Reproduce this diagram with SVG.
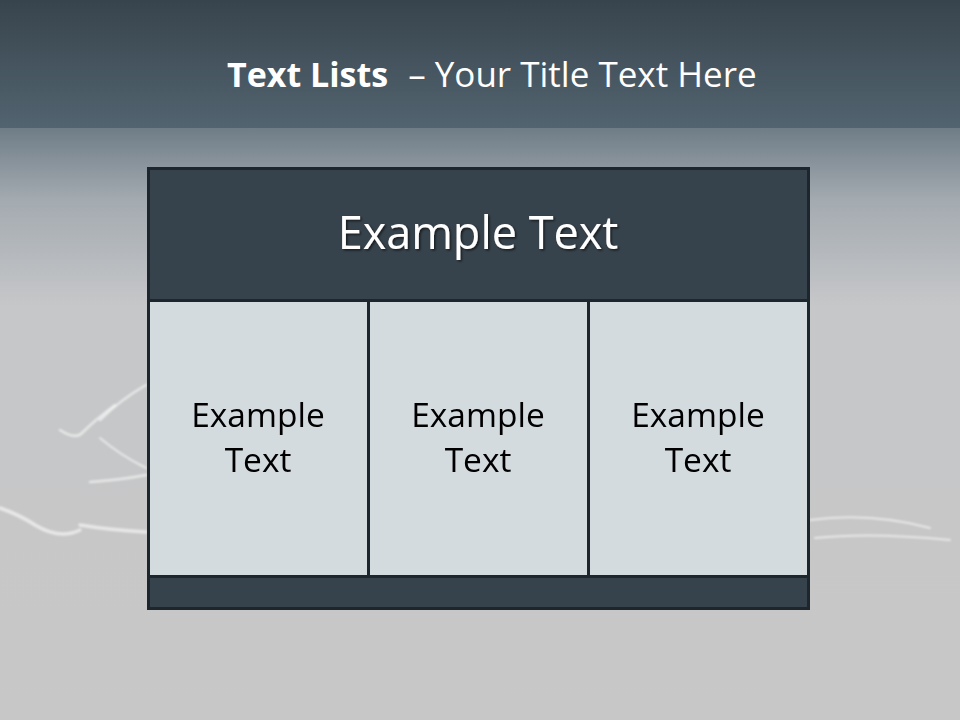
<svg xmlns="http://www.w3.org/2000/svg" width="960" height="720" viewBox="0 0 960 720">
<defs>
<linearGradient id="bgTop" x1="0" y1="0" x2="0" y2="1">
<stop offset="0" stop-color="#38444d"/>
<stop offset="1" stop-color="#526470"/>
</linearGradient>
<linearGradient id="bgBot" x1="0" y1="0" x2="0" y2="1">
<stop offset="0" stop-color="#6f7d87"/>
<stop offset="0.12" stop-color="#a3aab0"/>
<stop offset="0.3" stop-color="#c6c7c9"/>
<stop offset="1" stop-color="#c8c7c8"/>
</linearGradient>
<filter id="sh" x="-10%" y="-10%" width="120%" height="130%">
<feDropShadow dx="1.5" dy="1.5" stdDeviation="0.8" flood-color="#000" flood-opacity="0.6"/>
</filter>
<filter id="soft" x="-20%" y="-20%" width="140%" height="140%">
<feGaussianBlur stdDeviation="1.2"/>
</filter>
<style>
.title{font-family:"Open Sans","Noto Sans",sans-serif;fill:#fff;font-size:34px}
.hdr{font-family:"Open Sans","Noto Sans",sans-serif;fill:#fff;font-size:45px;text-anchor:middle}
.cell{font-family:"Open Sans","Noto Sans",sans-serif;fill:#000;font-size:33.5px;text-anchor:middle}
.dark{fill:#37434c;stroke:#1d262c;stroke-width:3}
.light{fill:#d3dbde;stroke:#1d262c;stroke-width:3}
.wisp{fill:none;stroke:#fff;stroke-linecap:round;opacity:0.6}
</style>
</defs>
<rect x="0" y="0" width="960" height="128" fill="url(#bgTop)"/>
<rect x="0" y="128" width="960" height="592" fill="url(#bgBot)"/>
<g id="splash" filter="url(#soft)">
<path class="wisp" stroke-width="2.5" d="M100 420 Q120 400 146 385"/>
<path class="wisp" stroke-width="2.5" d="M60 430 Q75 440 82 433 Q95 420 115 405"/>
<path class="wisp" stroke-width="2" d="M100 438 Q120 455 146 468"/>
<path class="wisp" stroke-width="3.5" d="M0 508 Q20 515 35 525 Q60 540 80 530"/>
<path class="wisp" stroke-width="3.5" d="M80 525 Q110 530 146 532"/>
<path class="wisp" stroke-width="2.5" d="M90 482 Q120 480 146 475"/>
<path class="wisp" stroke-width="2" d="M810 520 Q870 512 930 528"/>
<path class="wisp" stroke-width="2" d="M815 538 Q870 532 950 540"/>
</g>
<g id="title">
<text class="title" x="227" y="87"><tspan font-weight="bold">Text Lists</tspan><tspan dx="20" font-size="35">– Your Title Text Here</tspan></text>
</g>
<g id="header">
<rect class="dark" x="148.5" y="168.5" width="660" height="132"/>
<text class="hdr" x="478" y="249" filter="url(#sh)">Example Text</text>
</g>
<g id="cell1">
<rect class="light" x="148.5" y="300.5" width="220" height="276"/>
<text class="cell" x="258" y="427">Example</text>
<text class="cell" x="258" y="472">Text</text>
</g>
<g id="cell2">
<rect class="light" x="368.5" y="300.5" width="220" height="276"/>
<text class="cell" x="478" y="427">Example</text>
<text class="cell" x="478" y="472">Text</text>
</g>
<g id="cell3">
<rect class="light" x="588.5" y="300.5" width="220" height="276"/>
<text class="cell" x="698" y="427">Example</text>
<text class="cell" x="698" y="472">Text</text>
</g>
<g id="footer">
<rect class="dark" x="148.5" y="576.5" width="660" height="32"/>
</g>
<g id="connectors"/>
</svg>
